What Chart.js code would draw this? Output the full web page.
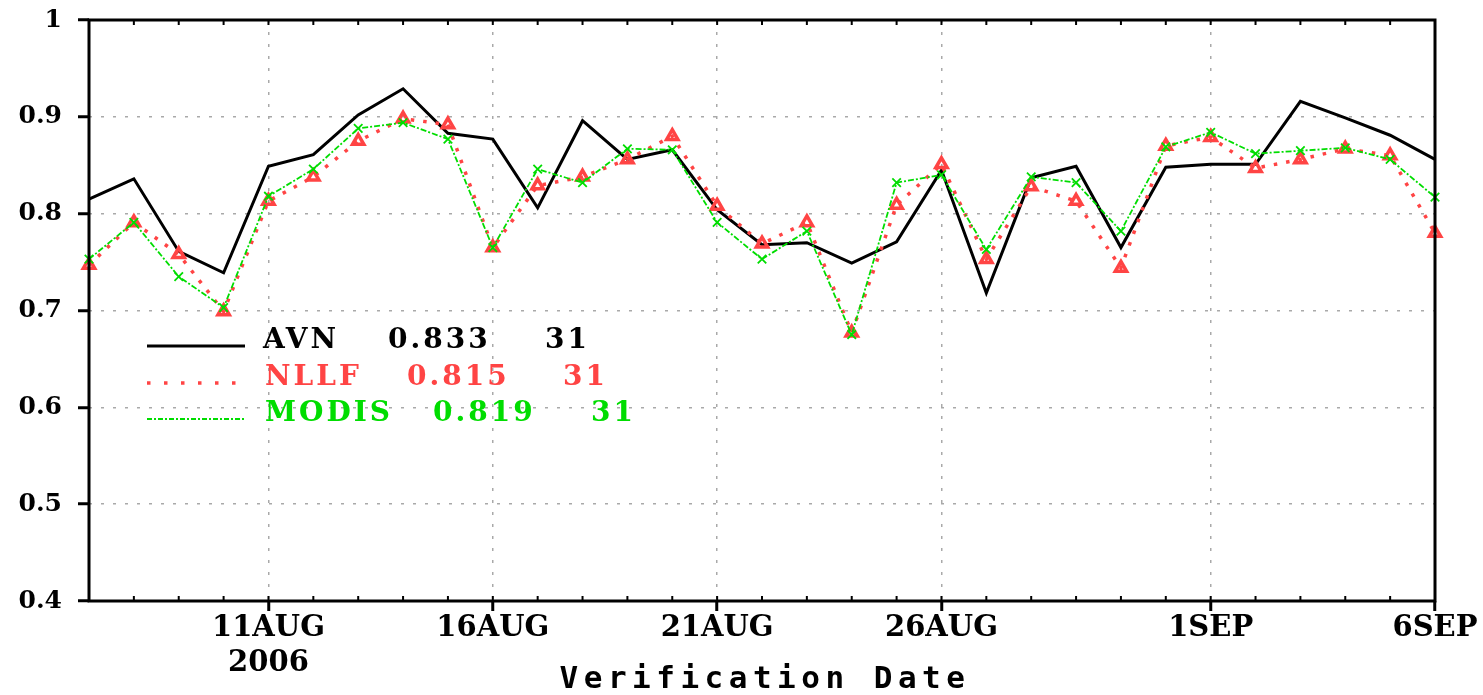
<!DOCTYPE html>
<html>
<head>
<meta charset="utf-8">
<title>Verification Date</title>
<script src="https://cdn.jsdelivr.net/npm/chart.js@4.4.1/dist/chart.umd.min.js"></script>
<style>
  html, body { margin: 0; padding: 0; background: #fff; }
  #wrap { width: 1483px; height: 695px; }
</style>
</head>
<body>
<div id="wrap"><canvas id="chart" width="1483" height="695"></canvas></div>
<script>
// verification days, 7AUG .. 6SEP 2006
let dates = ['7AUG', '8AUG', '9AUG', '10AUG', '11AUG', '12AUG', '13AUG', '14AUG', '15AUG', '16AUG',
    '17AUG', '18AUG', '19AUG', '20AUG', '21AUG', '22AUG', '23AUG', '24AUG', '25AUG', '26AUG',
    '27AUG', '28AUG', '29AUG', '30AUG', '31AUG', '1SEP', '2SEP', '3SEP', '4SEP', '5SEP', '6SEP'];
let major_ticks = ['11AUG', '16AUG', '21AUG', '26AUG', '1SEP', '6SEP'];
let year_label = '2006';
let y_ticks = [0.4, 0.5, 0.6, 0.7, 0.8, 0.9, 1];

let avn = [0.815, 0.836, 0.761, 0.739, 0.849, 0.861, 0.902, 0.929, 0.883, 0.877,
    0.806, 0.896, 0.856, 0.866, 0.804, 0.768, 0.770, 0.749, 0.771, 0.845,
    0.718, 0.837, 0.849, 0.765, 0.848, 0.851, 0.851, 0.916, 0.899, 0.881, 0.856];
let nllf = [0.747, 0.791, 0.758, 0.699, 0.813, 0.838, 0.875, 0.898, 0.892, 0.765,
    0.829, 0.838, 0.856, 0.880, 0.808, 0.769, 0.791, 0.677, 0.809, 0.851,
    0.753, 0.828, 0.813, 0.744, 0.870, 0.879, 0.847, 0.856, 0.867, 0.860, 0.780];
let modis = [0.753, 0.791, 0.735, 0.703, 0.818, 0.846, 0.888, 0.894, 0.877, 0.765,
    0.846, 0.832, 0.867, 0.866, 0.791, 0.753, 0.782, 0.675, 0.832, 0.840,
    0.763, 0.838, 0.832, 0.782, 0.869, 0.884, 0.862, 0.865, 0.868, 0.856, 0.817];

// legend text: name, mean, count
let series_names = ['AVN', 'NLLF', 'MODIS'];
let series_means = ['0.833', '0.815', '0.819'];
let series_counts = ['31', '31', '31'];

const RED = '#ff4444';
const GREEN = '#00dd00';
const GRID = '#a9a9a9';
const tick_font = '"DejaVu Serif", serif';

function is_major(i) {
    return major_ticks.includes(dates[i]);
}

// frame, minor day ticks, legend and axis title
const frame_plugin = {
    id: 'frame',
    afterDatasetsDraw(chart) {
        let ctx = chart.ctx;
        let a = chart.chartArea;
        let xs = chart.scales.x;
        ctx.save();
        ctx.strokeStyle = '#000';
        ctx.lineWidth = 2;
        for (let i = 0; i < dates.length; i++) {
            let x = xs.getPixelForValue(i);
            ctx.beginPath();
            ctx.moveTo(x, a.bottom);
            ctx.lineTo(x, a.bottom - 5);
            ctx.moveTo(x, a.top);
            ctx.lineTo(x, a.top + 5);
            ctx.stroke();
        }
        ctx.lineWidth = 3;
        ctx.strokeRect(a.left, a.top, a.right - a.left, a.bottom - a.top);

        // legend
        let rows = [
            { y: 348, color: '#000', width: 3, dash: [], xs: [263, 388, 545] },
            { y: 385, color: RED, width: 3.5, dash: [3.5, 13.5], xs: [265, 407, 563] },
            { y: 421, color: GREEN, width: 2, dash: [5, 2, 2, 2], xs: [265, 433, 591] },
        ];
        ctx.font = 'bold 28px ' + tick_font;
        ctx.letterSpacing = '3px';
        ctx.textBaseline = 'alphabetic';
        ctx.textAlign = 'left';
        rows.forEach((r, k) => {
            ctx.beginPath();
            ctx.setLineDash(r.dash);
            ctx.strokeStyle = r.color;
            ctx.lineWidth = r.width;
            ctx.moveTo(147, r.y - 2);
            ctx.lineTo(245, r.y - 2);
            ctx.stroke();
            ctx.fillStyle = r.color;
            ctx.fillText(series_names[k], r.xs[0], r.y);
            ctx.fillText(series_means[k], r.xs[1], r.y);
            ctx.fillText(series_counts[k], r.xs[2], r.y);
        });
        ctx.setLineDash([]);

        // axis title
        ctx.font = 'bold 31px "DejaVu Sans Mono", monospace';
        ctx.letterSpacing = '5.5px';
        ctx.textAlign = 'center';
        ctx.fillStyle = '#000';
        ctx.fillText('Verification Date', (a.left + a.right) / 2 + 3, 688);
        ctx.restore();
    }
};

let ctx = document.getElementById('chart');
let chart = new Chart(ctx, {
    type: 'line',
    data: {
        labels: dates,
        datasets: [
            {
                label: 'MODIS',
                data: modis,
                borderColor: GREEN,
                borderWidth: 1.8,
                borderDash: [6, 2, 2, 2],
                pointStyle: 'crossRot',
                pointRadius: 6,
                pointBorderWidth: 1.8,
                pointBorderColor: GREEN,
                pointBackgroundColor: GREEN,
                tension: 0,
                fill: false,
                order: 0,
            },
            {
                label: 'NLLF',
                data: nllf,
                borderColor: RED,
                borderWidth: 3.5,
                borderDash: [3.5, 9],
                pointStyle: 'triangle',
                pointRadius: 6.5,
                pointBorderWidth: 3.5,
                pointBorderColor: RED,
                pointBackgroundColor: 'rgba(255,255,255,0)',
                tension: 0,
                fill: false,
                order: 1,
            },
            {
                label: 'AVN',
                data: avn,
                borderColor: '#000',
                borderWidth: 3,
                pointRadius: 0,
                tension: 0,
                fill: false,
                order: 2,
            },
        ],
    },
    options: {
        responsive: false,
        animation: false,
        devicePixelRatio: 1,
        layout: { padding: { left: 0, top: 20, right: 48, bottom: 0 } },
        plugins: {
            legend: { display: false },
            tooltip: { enabled: false },
            title: { display: false },
        },
        scales: {
            x: {
                type: 'category',
                offset: false,
                afterFit: (s) => {
                    s.height = 94;
                    s.paddingLeft = 0;
                    s.paddingRight = 0;
                },
                grid: {
                    color: (c) => is_major(c.index) ? GRID : 'rgba(0,0,0,0)',
                    lineWidth: 1.5,
                    tickColor: (c) => is_major(c.index) ? '#000' : 'rgba(0,0,0,0)',
                    tickWidth: 3,
                    tickLength: 10,
                    tickBorderDash: [],
                },
                border: { display: false, dash: [3, 9] },
                ticks: {
                    autoSkip: false,
                    maxRotation: 0,
                    minRotation: 0,
                    padding: 0,
                    color: '#000',
                    font: { family: tick_font, size: 29, weight: 'bold', lineHeight: 1.2 },
                    callback: (v, i) => {
                        let lab = dates[i];
                        if (!major_ticks.includes(lab)) return '';
                        return i === dates.indexOf(major_ticks[0]) ? [lab, year_label] : lab;
                    },
                },
            },
            y: {
                min: y_ticks[0],
                max: y_ticks[y_ticks.length - 1],
                afterFit: (s) => {
                    s.width = 89;
                    s.paddingTop = 0;
                    s.paddingBottom = 0;
                },
                afterBuildTicks: (s) => { s.ticks = y_ticks.map((v) => ({ value: v })); },
                grid: {
                    color: GRID,
                    lineWidth: 1.5,
                    tickColor: '#000',
                    tickWidth: 3,
                    tickLength: 11,
                    tickBorderDash: [],
                },
                border: { display: false, dash: [3, 9] },
                ticks: {
                    padding: 16,
                    color: '#000',
                    font: { family: tick_font, size: 25, weight: 'bold' },
                    callback: (v) => (Math.abs(v - 1) < 1e-9 ? '1' : Number(v).toFixed(1)),
                },
            },
        },
    },
    plugins: [frame_plugin],
});
</script>
</body>
</html>
